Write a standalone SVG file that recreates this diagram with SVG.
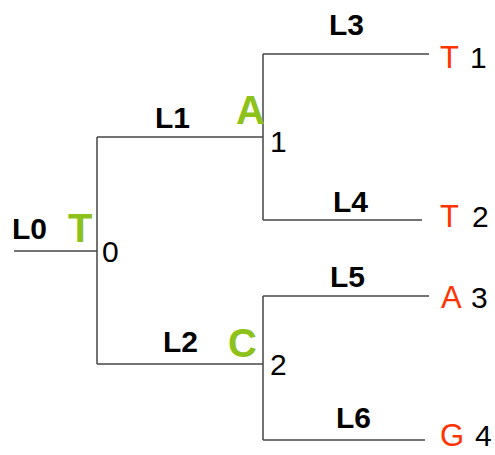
<svg xmlns="http://www.w3.org/2000/svg" width="495" height="455" viewBox="0 0 495 455">
<style>
.ln{stroke:#444;stroke-width:1.5;fill:none}
.lb{font-family:"Liberation Sans",Arial,sans-serif;font-weight:bold;font-size:30px;fill:#000}
.gr{font-family:"Liberation Sans",Arial,sans-serif;font-weight:bold;font-size:40px;fill:#8CC21A}
.rd{font-family:"Liberation Sans",Arial,sans-serif;font-size:31px;fill:#FF3300}
.nm{font-family:"Liberation Sans",Arial,sans-serif;font-size:30px;fill:#000}
</style>
<rect width="495" height="455" fill="#fff"/>
<g id="connectors">
<path class="ln" d="M14,251 H97"/>
<path class="ln" d="M97,137 V364"/>
<path class="ln" d="M97,137 H263"/>
<path class="ln" d="M97,364 H263"/>
<path class="ln" d="M263,54 V220"/>
<path class="ln" d="M263,54 H429"/>
<path class="ln" d="M263,220 H422"/>
<path class="ln" d="M263,296 V440"/>
<path class="ln" d="M263,296 H429"/>
<path class="ln" d="M263,440 H425"/>
</g>
<g id="edge-labels">
<text class="lb" x="12" y="239">L0</text>
<text class="lb" x="155" y="128">L1</text>
<text class="lb" x="163" y="352">L2</text>
<text class="lb" x="329" y="35">L3</text>
<text class="lb" x="333" y="212">L4</text>
<text class="lb" x="330" y="287">L5</text>
<text class="lb" x="336" y="428">L6</text>
</g>
<g id="node0"><text class="gr" x="68" y="242">T</text><text class="nm" x="102" y="262">0</text></g>
<g id="node1"><text class="gr" x="236" y="124">A</text><text class="nm" x="270" y="152">1</text></g>
<g id="node2"><text class="gr" x="228" y="357">C</text><text class="nm" x="270" y="375">2</text></g>
<g id="leaf1"><text class="rd" x="440" y="68">T</text><text class="nm" x="470" y="68">1</text></g>
<g id="leaf2"><text class="rd" x="440" y="227">T</text><text class="nm" x="472" y="227">2</text></g>
<g id="leaf3"><text class="rd" x="441" y="308">A</text><text class="nm" x="471" y="308">3</text></g>
<g id="leaf4"><text class="rd" x="440" y="446">G</text><text class="nm" x="475" y="446">4</text></g>
</svg>
